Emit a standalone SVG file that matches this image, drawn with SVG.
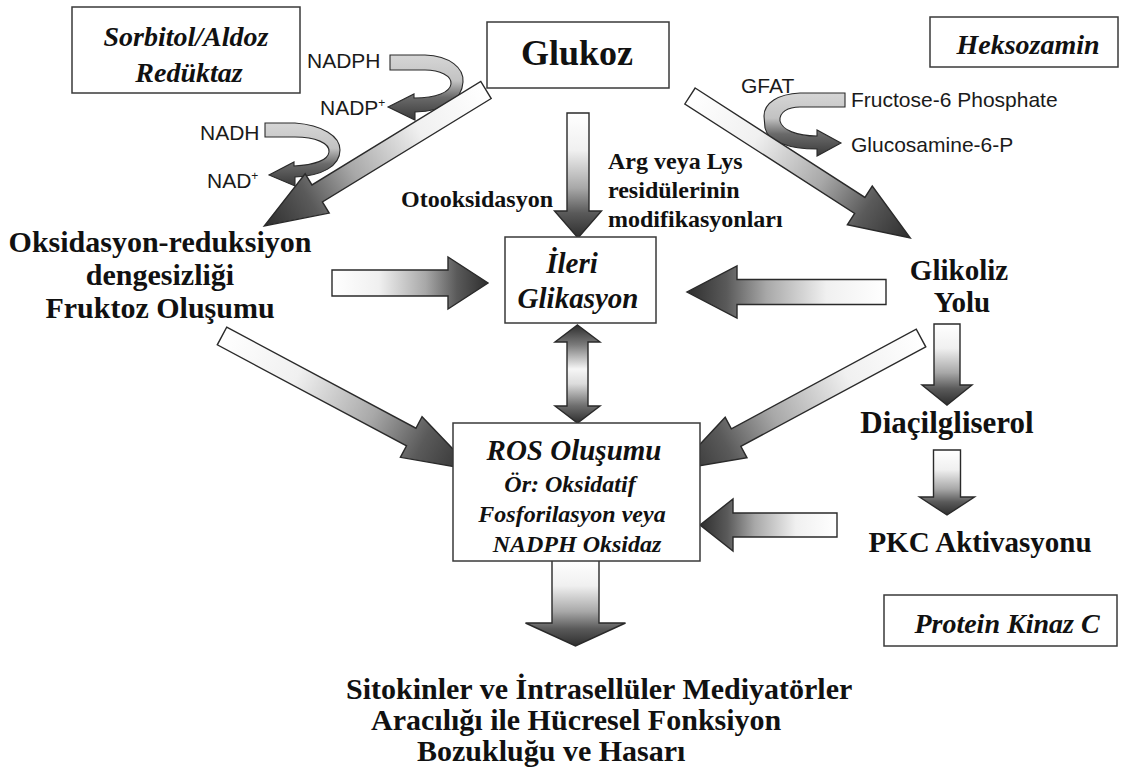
<svg xmlns="http://www.w3.org/2000/svg" width="1129" height="778" viewBox="0 0 1129 778">
<defs>
<linearGradient id="gA" x1="0" y1="0" x2="1" y2="0">
<stop offset="0" stop-color="#ffffff"/>
<stop offset="0.3" stop-color="#f0f0f0"/>
<stop offset="0.6" stop-color="#a8a8a8"/>
<stop offset="0.8" stop-color="#5a5a5a"/>
<stop offset="1" stop-color="#2e2e2e"/>
</linearGradient>
<linearGradient id="gD" x1="0" y1="0" x2="0" y2="1">
<stop offset="0" stop-color="#2e2e2e"/>
<stop offset="0.2" stop-color="#7a7a7a"/>
<stop offset="0.45" stop-color="#f6f6f6"/>
<stop offset="0.6" stop-color="#dcdcdc"/>
<stop offset="0.82" stop-color="#707070"/>
<stop offset="1" stop-color="#2e2e2e"/>
</linearGradient>
<linearGradient id="gC" x1="0" y1="0" x2="0" y2="1">
<stop offset="0" stop-color="#d6d6d6"/>
<stop offset="0.4" stop-color="#c2c2c2"/>
<stop offset="0.65" stop-color="#6a6a6a"/>
<stop offset="1" stop-color="#3a3a3a"/>
</linearGradient>
<style>
.box{fill:#fff;stroke:#3a3a3a;stroke-width:1.5}
.arr{fill:url(#gA);stroke:#2a2a2a;stroke-width:1.4}
.cur{fill:url(#gC);stroke:#2a2a2a;stroke-width:1.1}
.b{font-family:"Liberation Serif","Times New Roman",serif;font-weight:bold;fill:#111}
.bi{font-family:"Liberation Serif","Times New Roman",serif;font-weight:bold;font-style:italic;fill:#111}
.s{font-family:"Liberation Sans",Arial,sans-serif;font-size:21px;fill:#1a1a1a}
.m{text-anchor:middle}
</style>
</defs>
<rect width="1129" height="778" fill="#fff"/>

<g id="connectors">
<path class="cur" d="M390,55 L425,55 C450,56 464,68 463,82 C462,100 445,111 415,112 L415,120 L388,107 L414,94 L414,98 C437,98 450,92 451,84 C452,76 440,70 425,70 L390,70 Z"/>
<path class="cur" d="M265,123 L295,123 C322,125 340,136 340,150 C340,166 322,176 295,177 L295,186 L269,175 L294,162 L294,166 C315,165 328,160 329,152 C330,143 315,137 295,137 L265,137 Z"/>
<path class="cur" d="M845,93 L800,93 C778,94 764,103 764,116 L765,128 C768,142 790,149 817,149 L817,156 L841,143 L817,130 L817,136 C797,136 782,130 780,121 C779,112 788,107 800,107 L845,107 Z"/>

<path class="arr" transform="translate(486,90) rotate(148.5)" d="M0,-10 L198,-10 L198,-23 L260,0 L198,23 L198,10 L0,10 Z"/>
<path class="arr" transform="translate(690,96) rotate(32.8)" d="M0,-9.5 L202,-9.5 L202,-23 L262,0 L202,23 L202,9.5 L0,9.5 Z"/>
<path class="arr" transform="translate(578,113) rotate(90)" d="M0,-11 L98,-11 L98,-23.5 L125,0 L98,23.5 L98,11 L0,11 Z"/>
<path class="arr" transform="translate(332,283)" d="M0,-13 L116,-13 L116,-26 L156,0 L116,26 L116,13 L0,13 Z"/>
<path class="arr" transform="translate(886,292) rotate(180)" d="M0,-12.5 L149,-12.5 L149,-26 L199,0 L149,26 L149,12.5 L0,12.5 Z"/>
<path class="arr" transform="translate(222,336) rotate(28.1)" d="M0,-10 L214.5,-10 L214.5,-23 L284.5,0 L214.5,23 L214.5,10 L0,10 Z"/>
<path class="arr" transform="translate(921,338) rotate(151.7)" d="M0,-10 L210,-10 L210,-23 L278,0 L210,23 L210,10 L0,10 Z"/>
<path class="arr" transform="translate(947,324) rotate(90)" d="M0,-13 L61,-13 L61,-25 L81,0 L61,25 L61,13 L0,13 Z"/>
<path class="arr" transform="translate(947,450) rotate(90)" d="M0,-13.5 L47,-13.5 L47,-27.5 L65,0 L47,27.5 L47,13.5 L0,13.5 Z"/>
<path class="arr" transform="translate(837,525) rotate(180)" d="M0,-12 L104,-12 L104,-26 L137,0 L104,26 L104,12 L0,12 Z"/>
<path class="arr" transform="translate(575.5,560) rotate(90)" d="M0,-23.5 L63,-23.5 L63,-50 L86,0 L63,50 L63,23.5 L0,23.5 Z"/>
<path fill="url(#gD)" stroke="#2a2a2a" stroke-width="1.4" d="M577.5,325 L600,342 L588,342 L588,406 L600,406 L577.5,423 L555,406 L567,406 L567,342 L555,342 Z"/>
</g>

<g id="cofactors">
<text class="s" x="307" y="68">NADPH</text>
<text class="s" x="320" y="115">NADP<tspan font-size="12" dy="-8">+</tspan></text>
<text class="s" x="200" y="140">NADH</text>
<text class="s" x="207" y="188">NAD<tspan font-size="12" dy="-8">+</tspan></text>
<text class="s" x="741" y="93">GFAT</text>
<text class="s" x="851" y="107">Fructose-6 Phosphate</text>
<text class="s" x="851" y="152">Glucosamine-6-P</text>
</g>

<g id="sorbitol">
<rect class="box" x="72" y="7" width="228" height="86"/>
<text class="bi m" x="186" y="46" font-size="28">Sorbitol/Aldoz</text>
<text class="bi m" x="189" y="82" font-size="28">Redüktaz</text>
</g>

<g id="glukoz">
<rect class="box" x="487" y="22" width="182" height="66"/>
<text class="b m" x="577" y="65" font-size="36">Glukoz</text>
</g>

<g id="heksozamin">
<rect class="box" x="930" y="17" width="188" height="50"/>
<text class="bi m" x="1028" y="54" font-size="28">Heksozamin</text>
</g>

<g id="otooksidasyon">
<text class="b" x="401" y="207" font-size="24">Otooksidasyon</text>
</g>

<g id="arg-lys">
<text class="b" x="608" y="169" font-size="24">Arg veya Lys</text>
<text class="b" x="608" y="198" font-size="24">residülerinin</text>
<text class="b" x="608" y="227" font-size="24">modifikasyonları</text>
</g>

<g id="oksidasyon">
<text class="b m" x="160" y="252" font-size="30">Oksidasyon-reduksiyon</text>
<text class="b m" x="160" y="285" font-size="30">dengesizliği</text>
<text class="b m" x="160" y="318" font-size="30">Fruktoz Oluşumu</text>
</g>

<g id="ileri-glikasyon">
<rect class="box" x="505" y="237" width="151" height="86"/>
<text class="bi m" x="572" y="273" font-size="29">İleri</text>
<text class="bi m" x="578" y="308" font-size="29">Glikasyon</text>
</g>

<g id="glikoliz">
<text class="b m" x="959" y="280" font-size="29">Glikoliz</text>
<text class="b m" x="962" y="312" font-size="29">Yolu</text>
</g>

<g id="ros">
<rect class="box" x="453" y="423" width="247" height="138"/>
<text class="bi m" x="574" y="460" font-size="29">ROS Oluşumu</text>
<text class="bi m" x="570" y="492" font-size="24">Ör: Oksidatif</text>
<text class="bi m" x="572" y="522" font-size="24">Fosforilasyon veya</text>
<text class="bi m" x="577" y="552" font-size="24">NADPH Oksidaz</text>
</g>

<g id="diacilgliserol">
<text class="b m" x="947" y="433" font-size="31">Diaçilgliserol</text>
</g>

<g id="pkc">
<text class="b m" x="980" y="552" font-size="29">PKC Aktivasyonu</text>
</g>

<g id="protein-kinaz-c">
<rect class="box" x="884" y="595" width="233" height="51"/>
<text class="bi m" x="1007" y="633" font-size="28">Protein Kinaz C</text>
</g>

<g id="sonuc">
<text class="b" x="346" y="699" font-size="30">Sitokinler ve İntrasellüler Mediyatörler</text>
<text class="b" x="371" y="730" font-size="30">Aracılığı ile Hücresel Fonksiyon</text>
<text class="b" x="417" y="761" font-size="30">Bozukluğu ve Hasarı</text>
</g>
</svg>
